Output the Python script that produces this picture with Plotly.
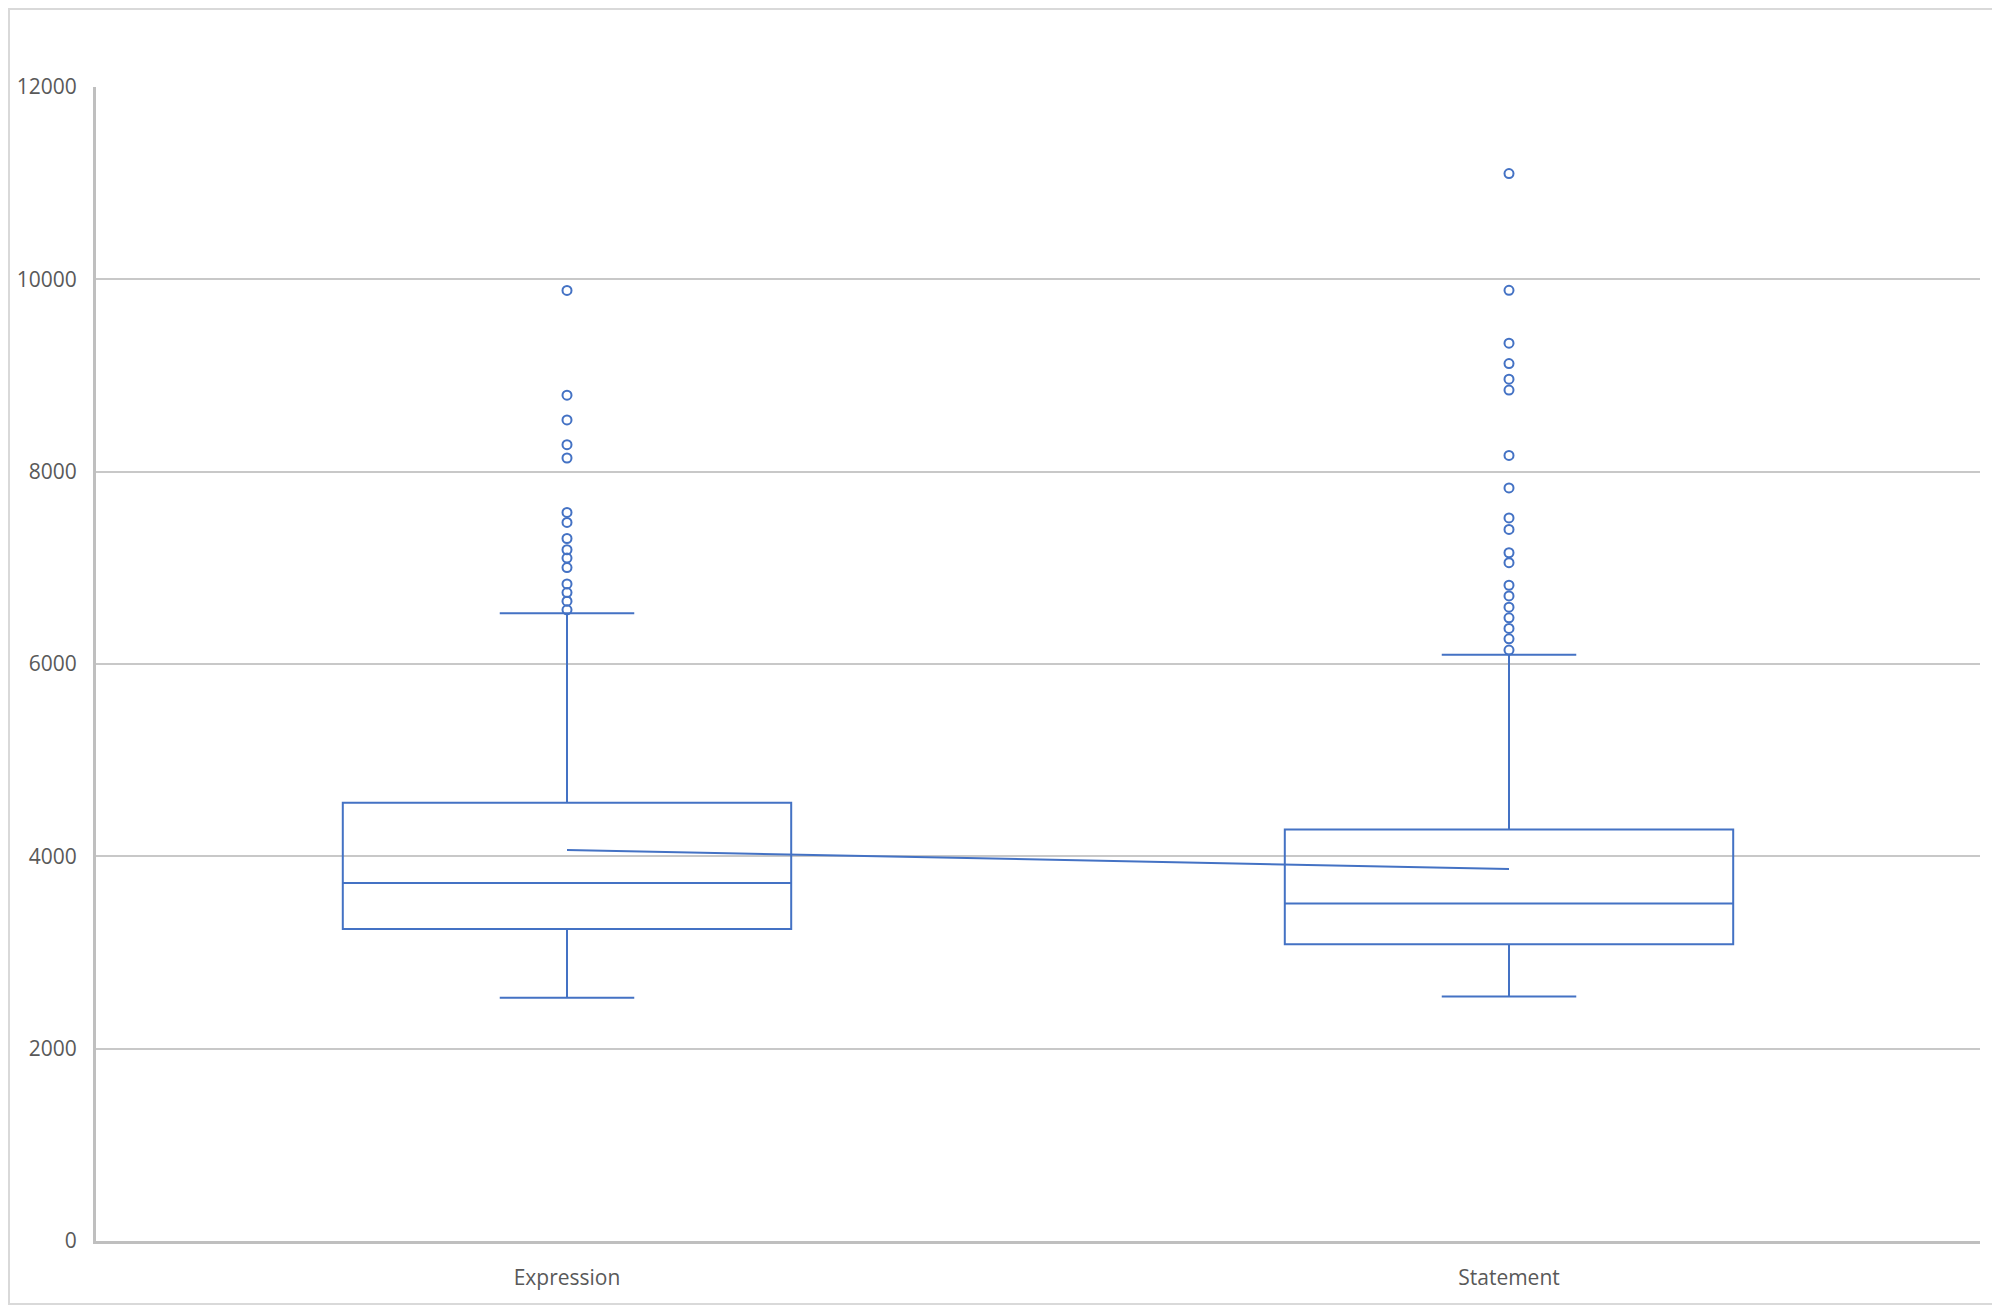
import plotly.graph_objects as go

categories = ["Expression", "Statement"]
lower_whisker = [2530, 2543]
q1 = [3245, 3086]
median = [3722, 3510]
q3 = [4556, 4278]
upper_whisker = [6528, 6096]
means = [4066, 3868]

expression_outliers = [9885, 8795, 8538, 8281, 8142, 7576, 7472, 7305, 7188,
                       7101, 7003, 6833, 6743, 6653, 6563]
statement_outliers = [11100, 9886, 9336, 9124, 8962, 8848, 8169, 7831, 7519,
                      7399, 7157, 7054, 6819, 6708, 6591, 6480, 6370, 6262, 6145]

y_ticks = [0, 2000, 4000, 6000, 8000, 10000, 12000]

blue = "#4472C4"
grey_line = "#BFBFBF"
label_color = "#595959"

fig = go.Figure()

fig.add_trace(go.Box(
    x=categories,
    q1=q1,
    median=median,
    q3=q3,
    lowerfence=lower_whisker,
    upperfence=upper_whisker,
    width=0.476,
    whiskerwidth=0.3,
    line=dict(color=blue, width=2),
    fillcolor="rgba(0,0,0,0)",
    boxpoints=False,
    showlegend=False,
))

for cat, pts in zip(categories, [expression_outliers, statement_outliers]):
    fig.add_trace(go.Scatter(
        x=[cat] * len(pts),
        y=pts,
        mode="markers",
        marker=dict(symbol="circle-open", size=9, color=blue,
                    line=dict(width=2, color=blue)),
        showlegend=False,
    ))

fig.add_trace(go.Scatter(
    x=categories,
    y=means,
    mode="lines",
    line=dict(color=blue, width=2),
    showlegend=False,
))

# the page body has an 8px margin, so the figure starts at (8, 8)
W, H = 1992, 1298
ml, mr, mt, mb = 88, 20, 79, 65
pw, ph = W - ml - mr, H - mt - mb

fig.update_layout(
    width=W,
    height=H,
    template="plotly_white",
    paper_bgcolor="white",
    plot_bgcolor="white",
    margin=dict(l=ml, r=mr, t=mt, b=mb),
    font=dict(family="Open Sans", size=21, color=label_color),
    shapes=[dict(
        type="rect", xref="paper", yref="paper",
        x0=-(ml - 1) / pw, x1=1 + (mr - 2) / pw,
        y0=-(mb - 2) / ph, y1=1 + (mt - 1) / ph,
        line=dict(color="#D9D9D9", width=2),
        layer="below",
    )],
)

fig.update_xaxes(
    type="category",
    range=[-0.5, 1.5],
    automargin=False,
    showgrid=False,
    showline=True,
    linecolor=grey_line,
    linewidth=3,
    ticks="",
    ticklabelstandoff=16,
    tickfont=dict(size=21, color=label_color),
)

fig.update_yaxes(
    range=[0, 12000],
    tickvals=y_ticks,
    ticktext=[str(v) for v in y_ticks],
    automargin=False,
    showgrid=True,
    gridcolor="#C8C8C8",
    gridwidth=2,
    zeroline=False,
    showline=True,
    linecolor=grey_line,
    linewidth=3,
    ticks="",
    ticklabelstandoff=12,
    tickfont=dict(size=21, color=label_color),
)

fig.write_html("out.html")
